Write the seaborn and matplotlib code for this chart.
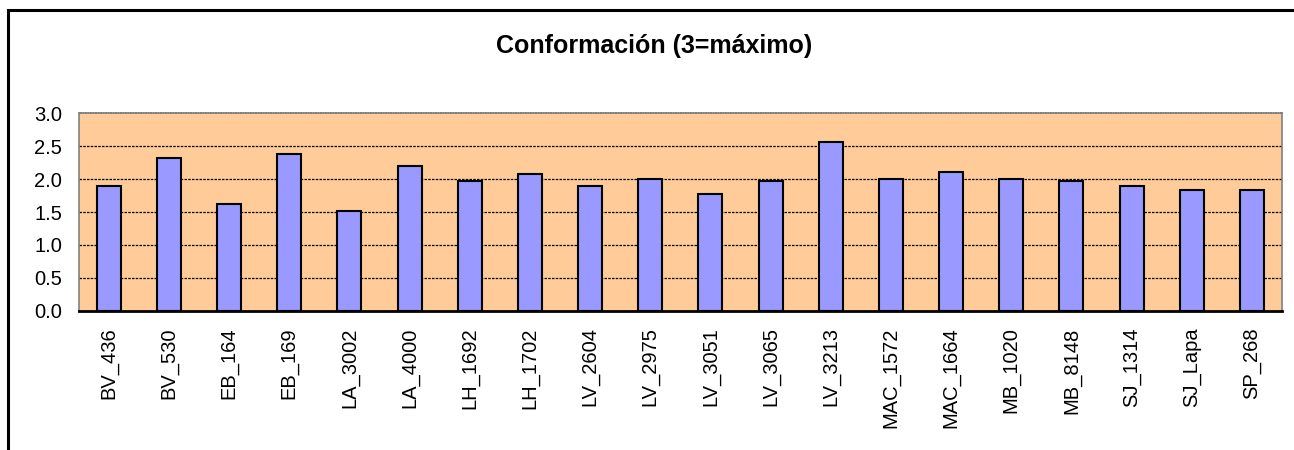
import matplotlib
matplotlib.use("Agg")
import matplotlib.pyplot as plt
import seaborn as sns
import pandas as pd
from matplotlib.patches import Rectangle

categories = ["BV_436", "BV_530", "EB_164", "EB_169", "LA_3002", "LA_4000",
              "LH_1692", "LH_1702", "LV_2604", "LV_2975", "LV_3051", "LV_3065",
              "LV_3213", "MAC_1572", "MAC_1664", "MB_1020", "MB_8148", "SJ_1314",
              "SJ_Lapa", "SP_268"]
values = [1.89, 2.32, 1.62, 2.38, 1.51, 2.20, 1.97, 2.07, 1.89, 2.00, 1.77,
          1.97, 2.56, 2.00, 2.11, 2.00, 1.97, 1.89, 1.83, 1.83]
yticks = [0.0, 0.5, 1.0, 1.5, 2.0, 2.5, 3.0]
title = "Conformación (3=máximo)"

sns.set_theme(style="white")
plt.rcParams["font.family"] = ["Liberation Sans", "DejaVu Sans"]

df = pd.DataFrame({"cat": categories, "val": values})

W, H = 1294, 450
fig = plt.figure(figsize=(W / 100, H / 100), dpi=100)
fig.patch.set_facecolor("white")

left, right, top, bottom = 78.7, 1282, 113.3, 310.7
ax = fig.add_axes([left / W, 1 - bottom / H, (right - left) / W, (bottom - top) / H])
ax.set_facecolor("#FFCC99")

sns.barplot(data=df, x="cat", y="val", ax=ax, color="#9999FF", saturation=1,
            width=0.4, edgecolor="black", linewidth=1.5, zorder=3)

ax.set_xlim(-0.5, len(categories) - 0.5)
ax.set_ylim(0, 3.0)
ax.set_yticks(yticks)
ax.set_yticklabels([f"{v:.1f}" for v in yticks])
for v in yticks[1:-1]:
    ax.axhline(v, color="black", linewidth=0.9, linestyle=(0, (2, 1)), zorder=1)

ax.set_xlabel("")
ax.set_ylabel("")
ax.tick_params(axis="x", length=0, pad=12, labelsize=14.5, rotation=90)
ax.tick_params(axis="y", length=0, pad=12, labelsize=14.5)
for lbl in ax.get_xticklabels():
    lbl.set_color("black")
for lbl in ax.get_yticklabels():
    lbl.set_color("black")

for side in ["top", "right", "left"]:
    ax.spines[side].set_color("#808080")
    ax.spines[side].set_linewidth(1.2)
ax.spines["top"].set_linestyle((0, (1, 0.5)))
ax.spines["bottom"].set_color("black")
ax.spines["bottom"].set_linewidth(2)
ax.spines["bottom"].set_zorder(5)

fig.text(654 / W, 1 - 46 / H, title, ha="center", va="center",
         fontsize=18, fontweight="bold", color="black")

# outer chart border (left and top visible)
fig.add_artist(Rectangle((7.5 / W, -0.1), 1.2, 1 - 10 / H + 0.1,
                         transform=fig.transFigure, fill=False,
                         edgecolor="black", linewidth=2.2))

fig.savefig("out.png", dpi=100)
